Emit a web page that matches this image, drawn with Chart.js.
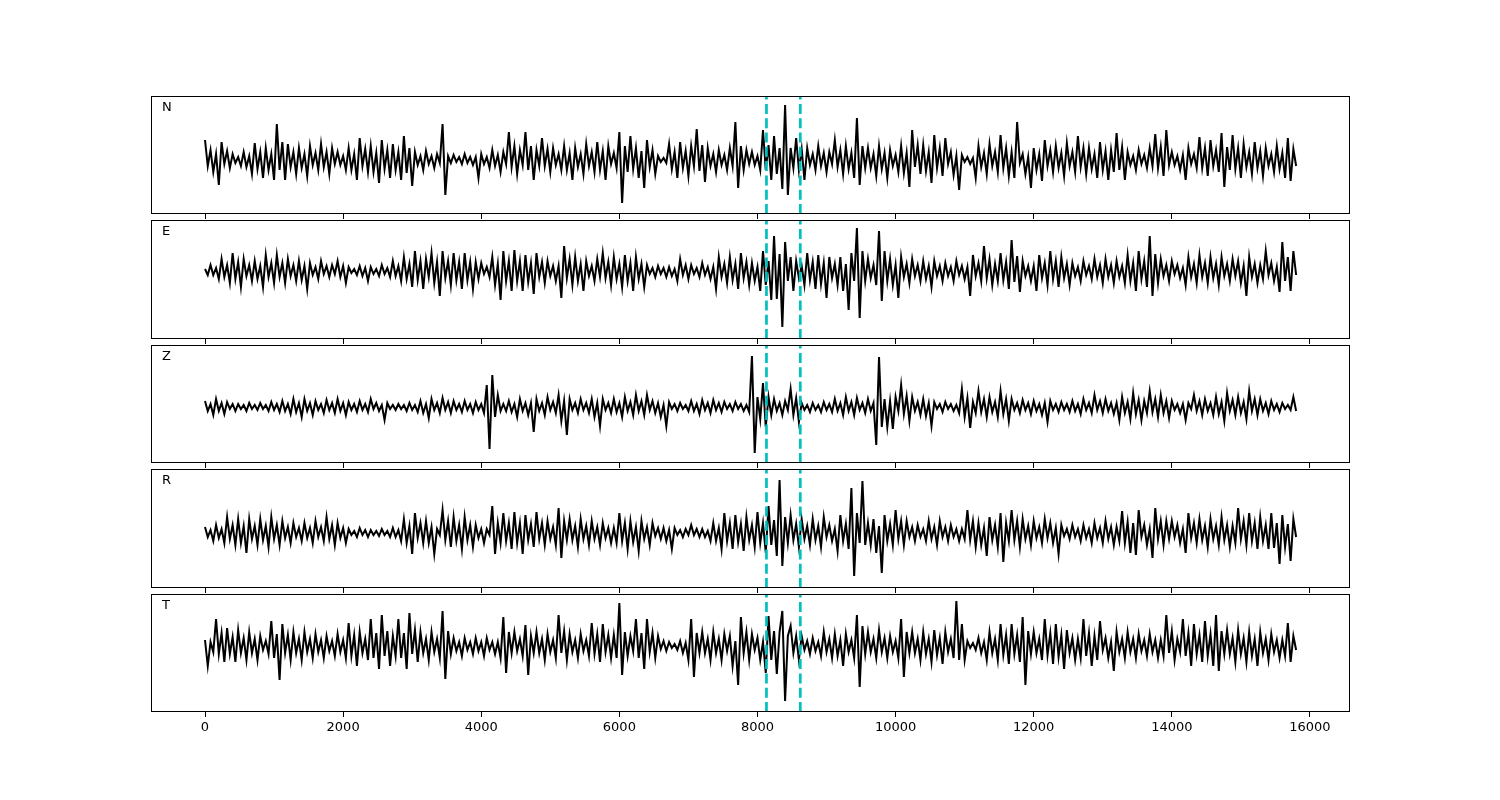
<!DOCTYPE html>
<html lang="en">
<head>
<meta charset="UTF-8">
<title>Traces</title>
<script src="https://cdn.jsdelivr.net/npm/chart.js@4.4.0/dist/chart.umd.min.js"></script>
<style>
  html, body { margin: 0; padding: 0; background: #fff; }
  body { width: 1500px; height: 800px; position: relative; overflow: hidden; }
  .panel { position: absolute; left: 0; width: 1500px; }
</style>
</head>
<body>
<script>
// sample spacing of the traces (x units)
const dt = 40;
const channels = ['N', 'E', 'Z', 'R', 'T'];

const traceN = [
  20,-6,10,-12,6,-25,18,-4,9,-8,6,-3,3,-6,8,-7,4,-14,17,-9,8,-18,12,-10,6,-20,36,-10,18,-20,16,-7,8,-14,12,-8,6,-16,14,-5,7,-10,16,-7,8,-14,12,-4,
  8,-5,4,-10,12,-10,6,-20,22,-6,11,-12,14,-12,7,-23,20,-9,10,-18,16,-10,8,-20,24,-13,12,-26,8,-5,4,-10,9,-4,4,-8,6,-3,36,-35,4,-3,5,-2,3,-4,6,-3,3,-5,
  3,-18,6,-4,3,-8,10,-6,5,-12,8,-4,28,-7,14,-14,10,-5,28,-10,14,-20,10,-6,22,-6,11,-12,12,-5,6,-10,14,-10,7,-20,12,-7,6,-14,16,-6,8,-12,18,-10,9,-20,14,-4,
  7,-8,28,-43,14,-12,24,-9,12,-18,9,-28,20,-7,10,-14,4,-2,2,-3,16,-9,8,-18,18,-8,9,-16,14,-6,31,-11,15,-22,12,-6,6,-12,10,-5,5,-10,12,-6,38,-28,14,-10,10,-4,
  8,-5,4,-10,30,-10,15,-20,24,-14,12,-29,55,-35,12,-8,22,-10,11,-20,12,-5,6,-10,14,-6,7,-12,8,-4,20,-7,10,-14,14,-9,7,-18,42,-25,14,-8,12,-8,6,-16,14,-9,7,-18,
  10,-6,5,-12,14,-13,7,-27,30,-7,15,-14,15,-11,8,-23,25,-8,12,-16,22,-4,8,-15,4,-30,5,-2,3,-4,2,-18,14,-7,7,-14,16,-6,8,-12,25,-8,12,-16,8,-18,38,-3,6,-14,3,-28,
  12,-10,6,-21,20,-6,10,-12,14,-8,7,-16,17,-6,8,-12,24,-7,12,-14,12,-9,6,-18,18,-10,9,-20,10,-12,27,-10,13,-20,8,-5,4,-10,10,-4,5,-8,12,-6,26,-8,13,-16,30,-5,
  8,-5,4,-10,5,-20,12,-4,6,-8,23,-8,12,-16,20,-6,10,-12,27,-27,13,-10,25,-9,12,-18,16,-7,8,-14,18,-8,9,-16,12,-6,6,-12,14,-9,7,-18,22,-21,11,-6
];
const traceE = [
  2,-4,6,-4,3,-8,12,-6,6,-12,18,-8,9,-16,12,-5,6,-10,10,-8,5,-16,16,-6,8,-12,16,-6,8,-12,12,-5,6,-10,10,-9,5,-18,8,-4,4,-8,10,-3,5,-6,6,-3,
  10,-6,5,-12,4,-2,2,-4,5,-5,3,-10,4,-3,2,-5,6,-3,3,-6,10,-5,5,-10,14,-8,7,-16,20,-9,10,-18,12,-6,18,-12,9,-25,20,-7,10,-14,18,-9,9,-18,18,-9,9,-18,
  9,-8,8,-3,4,-6,14,-14,7,-29,20,-10,10,-20,21,-10,10,-20,16,-11,8,-23,18,-6,9,-12,10,-5,5,-10,5,-27,25,-7,12,-14,14,-10,7,-20,10,-5,5,-10,12,-6,18,-7,9,-14,
  14,-8,7,-16,16,-10,8,-20,14,-8,7,-16,6,-3,3,-6,5,-3,3,-6,4,-5,2,-10,12,-4,6,-8,6,-3,3,-6,8,-4,4,-8,4,-18,14,-6,7,-12,14,-9,7,-18,18,-7,9,-14,
  8,-10,4,-20,20,-14,10,-29,35,-28,17,-56,29,-10,14,-20,10,-7,5,-14,18,-9,9,-18,16,-13,8,-27,14,-7,7,-14,14,-20,7,-39,18,-10,43,-47,20,-10,12,-7,6,-14,40,-30,20,-10,
  12,-14,6,-27,14,-6,7,-12,12,-5,6,-10,10,-8,5,-16,10,-5,5,-10,8,-5,4,-10,10,-4,5,-8,4,-25,16,-5,8,-10,25,-7,12,-14,7,-10,18,-9,9,-18,31,-11,15,-21,10,-5,5,-10,
  5,-20,16,-7,8,-14,20,-8,10,-16,14,-7,7,-14,8,-5,4,-10,10,-4,5,-8,12,-6,6,-12,12,-6,6,-12,10,-6,5,-12,16,-10,8,-20,20,-8,10,-16,35,-25,17,-12,12,-5,6,-10,
  10,-3,6,-7,3,-14,14,-6,7,-12,16,-6,8,-12,14,-7,7,-14,14,-5,7,-10,12,-5,10,-12,5,-25,14,-6,7,-12,6,-8,20,-4,8,-10,4,-21,29,-10,14,-20,20,-4
];
const traceZ = [
  6,-4,3,-8,8,-4,4,-7,5,-2,3,-4,3,-2,2,-4,4,-2,2,-3,4,-2,2,-4,5,-3,3,-5,6,-4,3,-7,8,-5,4,-10,8,-4,4,-8,6,-3,3,-6,7,-3,4,-6,
  8,-4,4,-8,5,-3,3,-5,6,-3,3,-5,8,-2,4,-4,2,-13,4,-2,2,-3,3,-2,2,-4,4,-3,2,-5,6,-6,3,-11,8,-3,4,-6,9,-3,5,-6,6,-3,3,-5,6,-3,3,-6,
  5,-3,3,-6,22,-42,32,-10,12,-4,3,-4,6,-5,3,-10,8,-4,4,-8,4,-25,8,-4,4,-8,10,-3,5,-6,12,-14,6,-28,8,-3,4,-6,8,-3,4,-6,8,-10,4,-19,8,-3,4,-6,
  8,-5,4,-10,10,-4,5,-8,12,-4,6,-8,12,-3,6,-6,4,-10,2,-19,5,-2,3,-4,4,-2,2,-4,6,-4,3,-7,7,-3,4,-6,7,-3,4,-5,5,-2,3,-4,5,-2,3,-4,2,-5,
  51,-46,10,-12,24,-20,10,-8,8,-4,4,-8,6,-3,18,-8,9,-15,4,-3,2,-5,4,-3,2,-5,5,-3,3,-5,8,-4,4,-8,10,-4,5,-8,9,-3,4,-6,8,-4,4,-38,50,-20,8,-20,
  6,-22,10,-4,22,-7,11,-14,10,-4,5,-8,8,-9,4,-19,5,-2,3,-5,5,-2,3,-4,2,-6,18,-10,9,-21,5,-6,16,-5,8,-10,10,-5,5,-10,16,-7,8,-14,8,-3,4,-6,7,-3,4,-7,
  6,-4,3,-8,4,-15,6,-3,3,-5,5,-3,3,-5,6,-4,3,-7,8,-3,4,-6,12,-3,6,-6,8,-4,4,-7,4,-13,10,-6,5,-12,14,-7,7,-13,6,-6,16,-5,8,-10,12,-6,6,-11,
  6,-3,3,-6,3,-13,4,-2,12,-4,6,-8,8,-4,4,-8,10,-7,5,-14,14,-4,7,-8,10,-6,5,-12,16,-4,8,-8,8,-4,4,-7,6,-3,3,-5,4,-2,2,-3,10,-4
];
const traceR = [
  6,-4,3,-8,8,-5,4,-10,16,-6,8,-12,14,-10,7,-20,14,-6,7,-12,14,-7,7,-14,16,-6,8,-12,12,-5,6,-10,10,-4,5,-8,10,-5,5,-10,12,-4,6,-8,16,-6,8,-12,
  10,-5,5,-10,4,-2,2,-4,5,-2,3,-4,3,-2,2,-3,4,-2,2,-4,5,-4,3,-8,14,-10,7,-21,20,-5,10,-10,12,-10,6,-21,4,-2,23,-7,12,-14,16,-8,8,-16,16,-7,8,-14,
  8,-5,4,-10,4,-2,27,-21,10,-10,20,-8,10,-16,21,-10,10,-21,18,-7,9,-14,21,-6,10,-12,12,-6,6,-12,25,-25,12,-7,14,-7,7,-14,14,-6,7,-12,12,-6,6,-12,10,-5,5,-10,
  5,-10,20,-8,10,-16,12,-9,6,-18,12,-6,6,-12,10,-3,5,-6,5,-8,3,-16,5,-2,3,-4,4,-2,8,-2,4,-4,4,-4,2,-8,10,-8,5,-16,20,-8,10,-16,18,-9,9,-18,16,-7,
  8,-14,21,-10,10,-20,27,-12,13,-23,53,-33,16,-10,18,-7,9,-14,14,-6,7,-12,14,-7,7,-14,16,-4,8,-8,4,-18,18,-8,9,-16,45,-43,20,-10,52,-12,10,-12,14,-20,7,-40,18,-8,
  9,-12,23,-6,12,-12,12,-4,6,-8,8,-4,4,-8,12,-6,6,-12,12,-4,6,-8,8,-4,4,-8,4,-6,23,-7,12,-14,10,-12,5,-23,16,-7,8,-14,20,-29,10,-8,23,-7,12,-14,14,-6,7,-12,
  12,-5,6,-10,14,-5,10,-10,5,-21,8,-3,4,-6,8,-4,4,-8,8,-5,4,-10,10,-5,5,-10,12,-6,6,-12,6,-8,22,-10,11,-20,10,-22,23,-4,8,-12,4,-25,25,-6,12,-12,12,-6,
  12,-4,8,-10,4,-20,20,-5,10,-10,14,-7,7,-14,14,-6,7,-12,16,-7,8,-14,7,-10,25,-6,12,-12,20,-8,10,-16,16,-8,8,-16,20,-15,10,-31,18,-14,9,-28,14,-4
];
const traceT = [
  6,-20,4,-6,27,-8,13,-16,18,-8,9,-16,16,-7,8,-14,14,-7,7,-14,10,-4,5,-8,25,-12,12,-34,22,-7,11,-14,14,-7,7,-14,14,-6,7,-12,12,-6,6,-12,10,-5,5,-10,
  12,-6,6,-12,23,-10,11,-20,14,-7,7,-14,27,-12,13,-23,31,-10,15,-20,10,-10,27,-12,13,-23,33,-8,16,-16,14,-7,7,-14,14,-6,7,-12,35,-33,15,-8,8,-5,4,-10,8,-4,4,-8,
  8,-5,4,-10,8,-4,4,-8,4,-12,29,-27,14,-7,14,-5,7,-10,21,-29,10,-7,14,-7,7,-14,12,-6,6,-12,31,-7,15,-14,12,-6,6,-12,12,-5,6,-10,23,-8,12,-16,22,-6,11,-12,
  11,-12,43,-29,14,-10,10,-5,27,-12,13,-23,27,-6,13,-12,10,-3,5,-5,4,-2,2,-4,5,-7,3,-14,27,-31,13,-7,14,-7,7,-14,14,-7,7,-14,12,-5,10,-20,5,-39,29,-7,14,-14,
  12,-4,8,-14,4,-27,30,-14,15,-28,14,35,-55,10,20,-7,10,-14,10,-4,5,-8,8,-5,4,-10,14,-6,7,-12,12,-10,6,-20,12,-6,6,-12,31,-41,20,-8,14,-6,7,-12,16,-6,8,-12,
  10,-6,5,-12,27,-31,14,-7,14,-7,7,-14,14,-8,7,-16,16,-9,8,-18,14,-6,7,-12,45,-14,22,-14,5,-2,3,-4,8,-7,4,-14,14,-7,7,-14,22,-9,11,-18,22,-8,11,-16,29,-39,15,-8,
  14,-7,7,-14,27,-9,13,-18,22,-11,11,-23,16,-7,8,-14,7,-12,27,-10,13,-20,10,-14,25,-4,8,-12,4,-25,14,-6,7,-12,14,-6,7,-12,12,-5,6,-10,12,-6,6,-12,6,-10,31,-7,
  15,-14,7,-6,27,-10,13,-20,22,-8,11,-16,25,-10,12,-20,31,-25,15,-8,16,-8,8,-16,16,-8,8,-16,14,-10,7,-20,14,-7,7,-14,12,-6,6,-12,6,-10,23,-16,10,-4
];
const traces = [traceN, traceE, traceZ, traceR, traceT];

// dashed cyan markers
const pickTimes = [8130, 8620];

// x axis
const xTicks = [0, 2000, 4000, 6000, 8000, 10000, 12000, 14000, 16000];
const xMin = -782, xMax = 16580;

// amplitude limits per panel
const yLimits = [[-54, 64], [-68, 51], [-56, 62], [-55, 64], [-66, 52]];

const panelTops = [96, 220, 345, 469, 594];
const panelHeights = [118, 119, 118, 119, 118];

const framePlugin = {
  id: 'frame',
  afterDraw(chart, args, opts) {
    const a = chart.chartArea, ctx = chart.ctx;
    ctx.save();
    ctx.strokeStyle = '#000';
    ctx.lineWidth = 1;
    ctx.strokeRect(a.left + 0.5, a.top + 0.5, a.right - a.left - 1, a.bottom - a.top - 1);
    ctx.fillStyle = '#000';
    ctx.font = '13px "DejaVu Sans"';
    ctx.textBaseline = 'middle';
    ctx.fillText(opts.label, a.left + 11, a.top + 12);
    ctx.restore();
  }
};

channels.forEach((name, k) => {
  const last = k === channels.length - 1;
  const axisH = last ? 40 : 8;
  const div = document.createElement('div');
  div.className = 'panel';
  div.style.top = (panelTops[k] - 1) + 'px';
  div.style.height = (1 + panelHeights[k] + axisH) + 'px';
  const cv = document.createElement('canvas');
  div.appendChild(cv);
  document.body.appendChild(div);

  const vals = traces[k];
  const lim = yLimits[k];
  const markerSets = pickTimes.map(t => ({
    data: [{x: t, y: lim[0]}, {x: t, y: lim[1]}],
    borderColor: '#00bfbf',
    borderWidth: 2.7,
    borderDash: [10, 4.3],
    pointRadius: 0
  }));

  new Chart(cv, {
    type: 'line',
    data: {
      datasets: markerSets.concat([{
        data: vals.map((v, i) => ({x: i * dt, y: v})),
        borderColor: '#000',
        borderWidth: 2,
        pointRadius: 0,
        tension: 0
      }])
    },
    options: {
      responsive: true,
      maintainAspectRatio: false,
      animation: false,
      events: [],
      layout: { padding: { top: 1, left: 151, right: 150, bottom: 0 } },
      plugins: { legend: { display: false }, tooltip: { enabled: false }, frame: { label: name } },
      scales: {
        x: {
          type: 'linear',
          min: xMin,
          max: xMax,
          afterBuildTicks: s => { s.ticks = xTicks.map(v => ({value: v})); },
          afterFit: s => { s.height = axisH; },
          border: { display: false },
          grid: { display: true, drawOnChartArea: false, drawTicks: true, tickLength: 5, color: '#000', lineWidth: 1 },
          ticks: {
            display: last,
            color: '#000',
            padding: 3,
            maxRotation: 0,
            font: { family: 'DejaVu Sans', size: 13 },
            callback: v => String(v)
          }
        },
        y: { display: false, min: lim[0], max: lim[1] }
      }
    },
    plugins: [framePlugin]
  });
});
</script>
</body>
</html>
